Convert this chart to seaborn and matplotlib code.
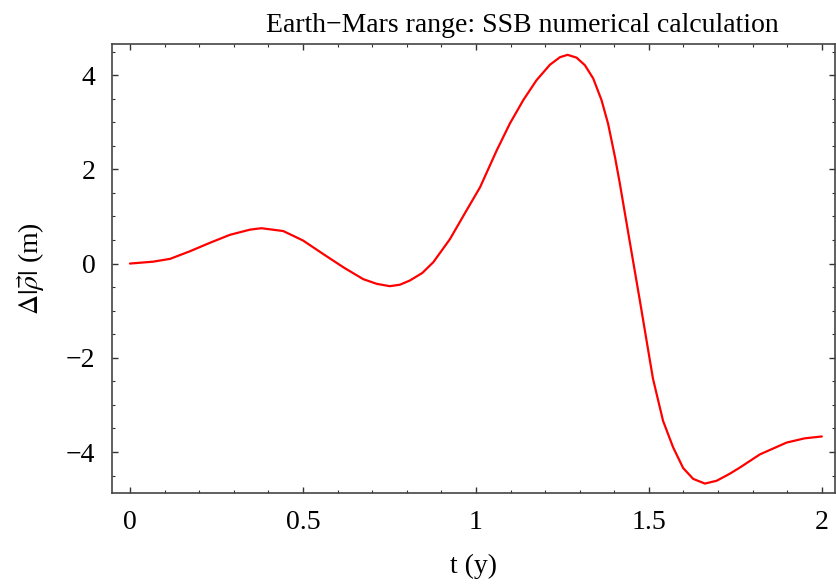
import numpy as np
import matplotlib
matplotlib.use("Agg")
import matplotlib.pyplot as plt
from matplotlib.ticker import MultipleLocator, FuncFormatter
import seaborn as sns

# values
t_years = [0.0, 0.067, 0.116, 0.173, 0.231, 0.289, 0.347, 0.38, 0.443, 0.50,
           0.559, 0.617, 0.674, 0.713, 0.751, 0.78, 0.809, 0.845, 0.877, 0.925,
           0.973, 1.012, 1.06, 1.098, 1.137, 1.175, 1.214, 1.243, 1.265, 1.291,
           1.315, 1.339, 1.363, 1.382, 1.402, 1.416, 1.445, 1.474, 1.503, 1.512,
           1.541, 1.570, 1.599, 1.628, 1.662, 1.696, 1.734, 1.763, 1.821, 1.898,
           1.95, 2.0]
delta_rho = [0.0, 0.04, 0.10, 0.26, 0.44, 0.61, 0.72, 0.75, 0.69, 0.49,
             0.20, -0.08, -0.33, -0.43, -0.48, -0.45, -0.36, -0.20, 0.03, 0.52,
             1.13, 1.62, 2.40, 2.97, 3.47, 3.89, 4.22, 4.38, 4.43, 4.37,
             4.21, 3.93, 3.47, 2.97, 2.26, 1.70, 0.45, -0.79, -2.06, -2.45,
             -3.34, -3.90, -4.34, -4.57, -4.67, -4.61, -4.46, -4.33, -4.05, -3.80,
             -3.71, -3.67]

sns.set_style("ticks")
plt.rcParams["font.family"] = ["Liberation Serif", "DejaVu Serif"]
plt.rcParams["mathtext.fontset"] = "stix"
plt.rcParams["axes.unicode_minus"] = True
plt.rcParams["text.color"] = "black"
plt.rcParams["axes.labelcolor"] = "black"
plt.rcParams["xtick.labelcolor"] = "black"
plt.rcParams["ytick.labelcolor"] = "black"

W, H = 836, 586
fig = plt.figure(figsize=(W / 100, H / 100), dpi=100)
ax = fig.add_axes([112 / W, (H - 493) / H, (835 - 112) / W, (493 - 44) / H])

sns.lineplot(x=t_years, y=delta_rho, ax=ax, color="#ff0000", linewidth=1.6,
             sort=False, estimator=None)

ax.set_xlim(-0.052, 2.038)
ax.set_ylim(-4.87, 4.66)

ax.xaxis.set_major_locator(MultipleLocator(0.5))
ax.xaxis.set_minor_locator(MultipleLocator(0.1))
ax.yaxis.set_major_locator(MultipleLocator(2))
ax.yaxis.set_minor_locator(MultipleLocator(0.5))
fmt = FuncFormatter(lambda v, p: ("%g" % v).replace("-", "\u2212"))
ax.xaxis.set_major_formatter(fmt)
ax.yaxis.set_major_formatter(fmt)

ax.tick_params(which="both", direction="in", top=True, right=True,
               labeltop=False, labelright=False, color="#333333")
ax.tick_params(which="major", length=4.5, width=1.0, labelsize=20, pad=12)
ax.tick_params(which="minor", length=2.5, width=0.8)

for side in ["left", "right", "top", "bottom"]:
    ax.spines[side].set_visible(True)
    ax.spines[side].set_color("#444444")
    ax.spines[side].set_linewidth(1.2)

ax.set_xlabel("t (y)", fontsize=20, labelpad=14)
ax.set_ylabel(r"$\Delta|\vec{\rho}|$ (m)", fontsize=20)
ax.yaxis.set_label_coords(-0.09, 0.5)
ax.set_title("Earth\u2212Mars range: SSB numerical calculation", fontsize=20,
             x=0.568, pad=9)

plt.savefig("out.png", dpi=100)
plt.close(fig)
